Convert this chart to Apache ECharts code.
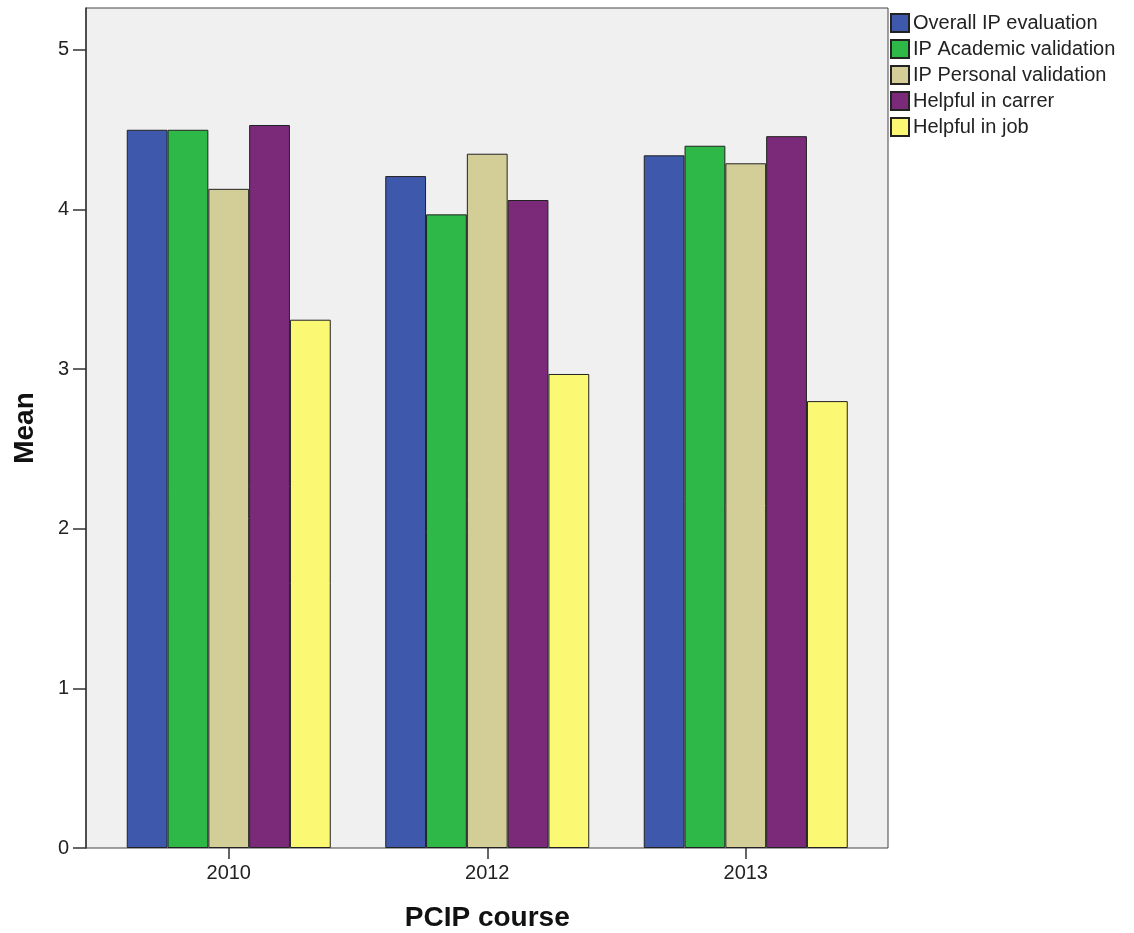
<!DOCTYPE html>
<html>
<head>
<meta charset="utf-8">
<script src="https://cdn.jsdelivr.net/npm/echarts@6/dist/echarts.min.js"></script>
<style>
html,body{margin:0;padding:0;background:#fff;}
#chart{width:1134px;height:933px;}
</style>
</head>
<body>
<div id="chart"></div>
<script>
var categories = ['2010', '2012', '2013'];
var seriesNames = ['Overall IP evaluation', 'IP Academic validation', 'IP Personal validation', 'Helpful in carrer', 'Helpful in job'];
var overallIP = [4.50, 4.21, 4.34];
var academicValidation = [4.50, 3.97, 4.40];
var personalValidation = [4.13, 4.35, 4.29];
var helpfulCareer = [4.53, 4.06, 4.46];
var helpfulJob = [3.31, 2.97, 2.80];
var yTicks = [0, 1, 2, 3, 4, 5];
var yMax = 5.263;

var colors = ['#3e58ac', '#2eb848', '#d3ce97', '#7b2a7a', '#fbf873'];
var values = [overallIP, academicValidation, personalValidation, helpfulCareer, helpfulJob];
var font = 'Liberation Sans, Arial, sans-serif';

var chart = echarts.init(document.getElementById('chart'));
var series = seriesNames.map(function (n, i) {
  return {
    name: n,
    type: 'bar',
    xAxisIndex: 1,
    yAxisIndex: 1,
    data: values[i],
    barWidth: 40.8,
    barGap: '0%',
    itemStyle: { color: colors[i], borderColor: '#222', borderWidth: 1 },
    emphasis: { disabled: true }
  };
});

chart.setOption({
  animation: false,
  color: colors,
  legend: {
    orient: 'vertical',
    left: 885,
    top: 8,
    itemWidth: 18,
    itemHeight: 18,
    itemGap: 6,
    icon: 'rect',
    textStyle: { fontFamily: font, fontSize: 20, color: '#222', lineHeight: 18, padding: [0, 0, 0, -1] },
    data: seriesNames
  },
  grid: [
    { left: 86, right: 246, top: 8, bottom: 85, outerBoundsMode: 'none', show: true, backgroundColor: '#f0f0f0', borderColor: '#444', borderWidth: 1 },
    { left: 99.5, right: 259, top: 8, bottom: 85, outerBoundsMode: 'none' }
  ],
  xAxis: [
    { gridIndex: 0, type: 'value', min: 0, max: 1, show: false },
    {
      gridIndex: 1, type: 'category', data: categories,
      axisLine: { show: false },
      axisTick: { show: true, alignWithLabel: true, length: 11, lineStyle: { color: '#333', width: 1.5 } },
      axisLabel: { fontFamily: font, fontSize: 20, color: '#222', margin: 15 },
      name: 'PCIP course', nameLocation: 'middle', nameGap: 56,
      nameTextStyle: { fontFamily: font, fontSize: 28, fontWeight: 'bold', color: '#111' }
    }
  ],
  yAxis: [
    {
      gridIndex: 0, type: 'value', min: 0, max: yMax,
      axisLine: { show: true, lineStyle: { color: '#333', width: 1.5 } },
      axisTick: { show: true, length: 13, customValues: yTicks, lineStyle: { color: '#333', width: 1.5 } },
      axisLabel: { fontFamily: font, fontSize: 20, color: '#222', margin: 17, customValues: yTicks },
      splitLine: { show: false },
      name: 'Mean', nameLocation: 'middle', nameGap: 47,
      nameTextStyle: { fontFamily: font, fontSize: 28, fontWeight: 'bold', color: '#111' }
    },
    { gridIndex: 1, type: 'value', min: 0, max: yMax, show: false }
  ],
  series: series
});
</script>
</body>
</html>
